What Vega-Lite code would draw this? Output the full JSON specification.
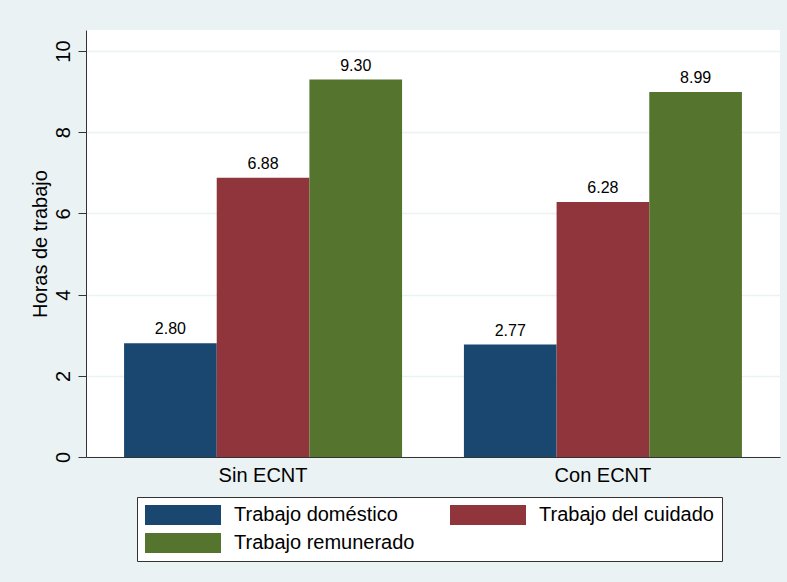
{
  "$schema": "https://vega.github.io/schema/vega-lite/v6.json",
  "width": 694,
  "height": 427,
  "autosize": {"type": "none"},
  "padding": {"left": 86, "top": 30, "right": 7, "bottom": 125},
  "background": "#EAF2F3",
  "config": {
    "view": {"fill": "white", "stroke": null},
    "font": "Liberation Sans",
    "axis": {"labelColor": "#000000", "titleColor": "#000000", "domainColor": "#333333", "tickColor": "#333333", "labelFont": "Liberation Sans", "titleFont": "Liberation Sans"}
  },
  "data": {
    "values": [
      {"grupo": "Sin ECNT", "tipo": "Trabajo doméstico", "horas": 2.80},
      {"grupo": "Sin ECNT", "tipo": "Trabajo del cuidado", "horas": 6.88},
      {"grupo": "Sin ECNT", "tipo": "Trabajo remunerado", "horas": 9.30},
      {"grupo": "Con ECNT", "tipo": "Trabajo doméstico", "horas": 2.77},
      {"grupo": "Con ECNT", "tipo": "Trabajo del cuidado", "horas": 6.28},
      {"grupo": "Con ECNT", "tipo": "Trabajo remunerado", "horas": 8.99}
    ]
  },
  "encoding": {
    "x": {
      "field": "grupo", "type": "nominal", "sort": ["Sin ECNT", "Con ECNT"],
      "scale": {"paddingInner": 0.182, "paddingOuter": 0.112},
      "axis": {"title": null, "labelAngle": 0, "ticks": false, "labelFontSize": 20, "labelPadding": 8, "grid": false}
    },
    "xOffset": {
      "field": "tipo", "type": "nominal",
      "sort": ["Trabajo doméstico", "Trabajo del cuidado", "Trabajo remunerado"],
      "scale": {"paddingInner": 0, "paddingOuter": 0}
    },
    "y": {
      "field": "horas", "type": "quantitative",
      "scale": {"domain": [0, 10.52], "nice": false, "zero": true},
      "axis": {
        "title": "Horas de trabajo", "titleFontSize": 20, "titleFontWeight": "normal",
        "values": [0, 2, 4, 6, 8, 10], "labelAngle": -90, "labelFontSize": 20,
        "tickSize": 8, "labelPadding": 5, "grid": true, "gridColor": "#EAF2F3", "gridWidth": 1.5,
        "titlePadding": 3
      }
    }
  },
  "layer": [
    {
      "mark": {"type": "bar"},
      "encoding": {
        "color": {
          "field": "tipo", "type": "nominal",
          "scale": {"domain": ["Trabajo doméstico", "Trabajo del cuidado", "Trabajo remunerado"], "range": ["#1A476F", "#90353B", "#55752F"]},
          "legend": {
            "orient": "none", "legendX": 51, "legendY": 467, "direction": "horizontal", "columns": 2,
            "title": null, "symbolType": "M-1,-1H6.6V1H-1Z", "symbolSize": 400, "symbolStrokeWidth": 0,
            "symbolOpacity": 1, "labelFontSize": 20, "labelOffset": 69, "labelLimit": 400, "labelColor": "#000000",
            "columnPadding": 35, "rowPadding": 8, "padding": 8, "strokeColor": "#333333", "fillColor": "white"
          }
        }
      }
    },
    {
      "mark": {"type": "text", "baseline": "alphabetic", "dy": -9, "fontSize": 16, "color": "#000000"},
      "encoding": {"text": {"field": "horas", "type": "quantitative", "format": ".2f"}}
    }
  ]
}
